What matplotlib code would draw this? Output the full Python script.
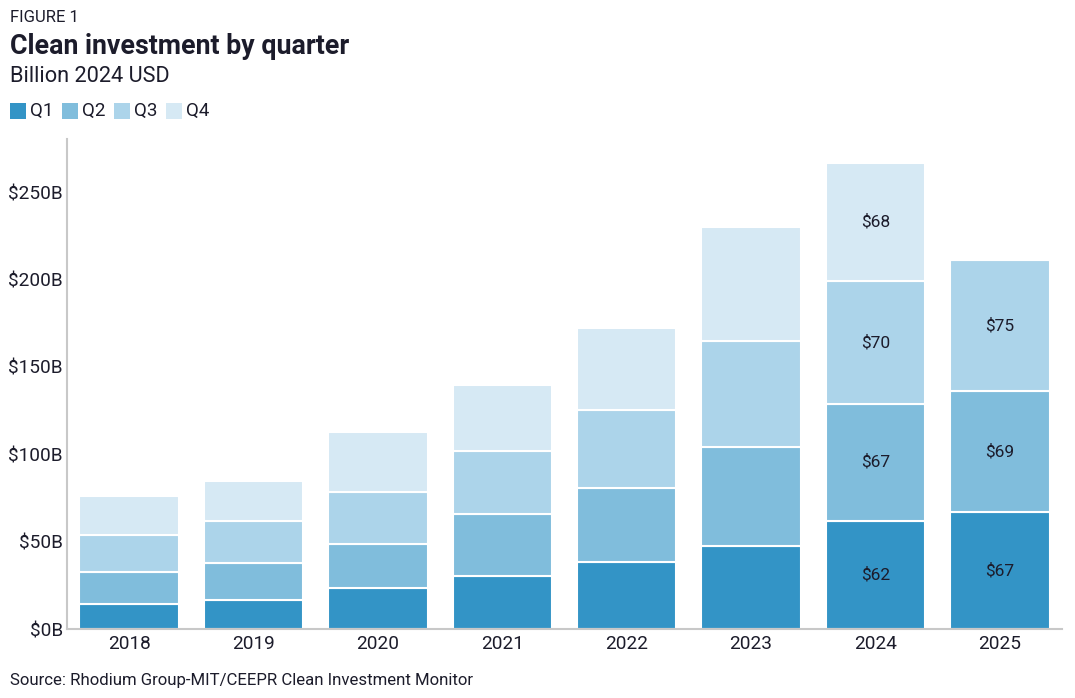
import numpy as np
import matplotlib.pyplot as plt
from matplotlib.patches import Rectangle

plt.rcParams['font.family'] = ['Roboto', 'DejaVu Sans']

years = ['2018', '2019', '2020', '2021', '2022', '2023', '2024', '2025']
q1 = [14.4, 16.7, 23.6, 30.5, 38.5, 47.7, 62.0, 67.0]
q2 = [18.4, 21.2, 25.3, 35.6, 42.5, 56.3, 67.0, 69.0]
q3 = [21.2, 24.1, 29.8, 35.6, 44.3, 61.0, 70.0, 75.0]
q4 = [21.9, 23.0, 33.9, 38.0, 47.1, 65.0, 68.0, 0.0]
quarters = ['Q1', 'Q2', 'Q3', 'Q4']
labeled_years = ['2024', '2025']

colors = ['#3394c6', '#80bddc', '#acd4ea', '#d6e9f4']
text_color = '#1c1c2b'
axis_color = '#c8c8c8'

W, H = 1075, 698
fig = plt.figure(figsize=(W / 100, H / 100), dpi=100)
ax = fig.add_axes([67 / W, 1 - 629 / H, (1062 - 67) / W, (629 - 139) / H])

x = np.arange(len(years))
bottom = np.zeros(len(years))
for name, vals, col in zip(quarters, [q1, q2, q3, q4], colors):
    vals = np.array(vals)
    ax.bar(x, vals, width=0.8, bottom=bottom, color=col, edgecolor='white', linewidth=1.5, label=name)
    for i, yr in enumerate(years):
        if yr in labeled_years and vals[i] > 0:
            ax.text(x[i], bottom[i] + vals[i] / 2, '$%d' % round(vals[i]), ha='center', va='center',
                    fontsize=12.5, color=text_color)
    bottom += vals

ax.set_xlim(-0.5, len(years) - 0.5)
ax.set_ylim(0, 280.5)
ax.set_xticks(x)
ax.set_xticklabels(years)
ax.set_yticks([0, 50, 100, 150, 200, 250])
ax.set_yticklabels(['$%dB' % v for v in [0, 50, 100, 150, 200, 250]])
ax.tick_params(length=0, labelsize=13.7, colors=text_color)
ax.tick_params(axis='y', pad=3)
ax.tick_params(axis='x', pad=4)
for s in ['top', 'right']:
    ax.spines[s].set_visible(False)
for s in ['left', 'bottom']:
    ax.spines[s].set_color(axis_color)
    ax.spines[s].set_linewidth(1.5)

fig.text(10 / W, 1 - 18 / H, 'FIGURE 1', fontsize=12, color=text_color, va='center')
fig.text(10 / W, 1 - 47 / H, 'Clean investment by quarter', fontsize=19.3, fontweight='bold',
         color=text_color, va='center')
fig.text(10 / W, 1 - 77 / H, 'Billion 2024 USD', fontsize=15.7, color=text_color, va='center')
fig.text(10 / W, 1 - 680 / H, 'Source: Rhodium Group-MIT/CEEPR Clean Investment Monitor',
         fontsize=12.1, color=text_color, va='center')

# legend drawn by hand: square + label
for k, (q, c) in enumerate(zip(quarters, colors)):
    x0 = 10 + 52 * k
    fig.add_artist(Rectangle((x0 / W, 1 - 119 / H), 16 / W, 16 / H, facecolor=c, edgecolor='none',
                             transform=fig.transFigure))
    fig.text((x0 + 20) / W, 1 - 111 / H, q, fontsize=13.5, color=text_color, va='center')

fig.savefig('out.png', dpi=100)
